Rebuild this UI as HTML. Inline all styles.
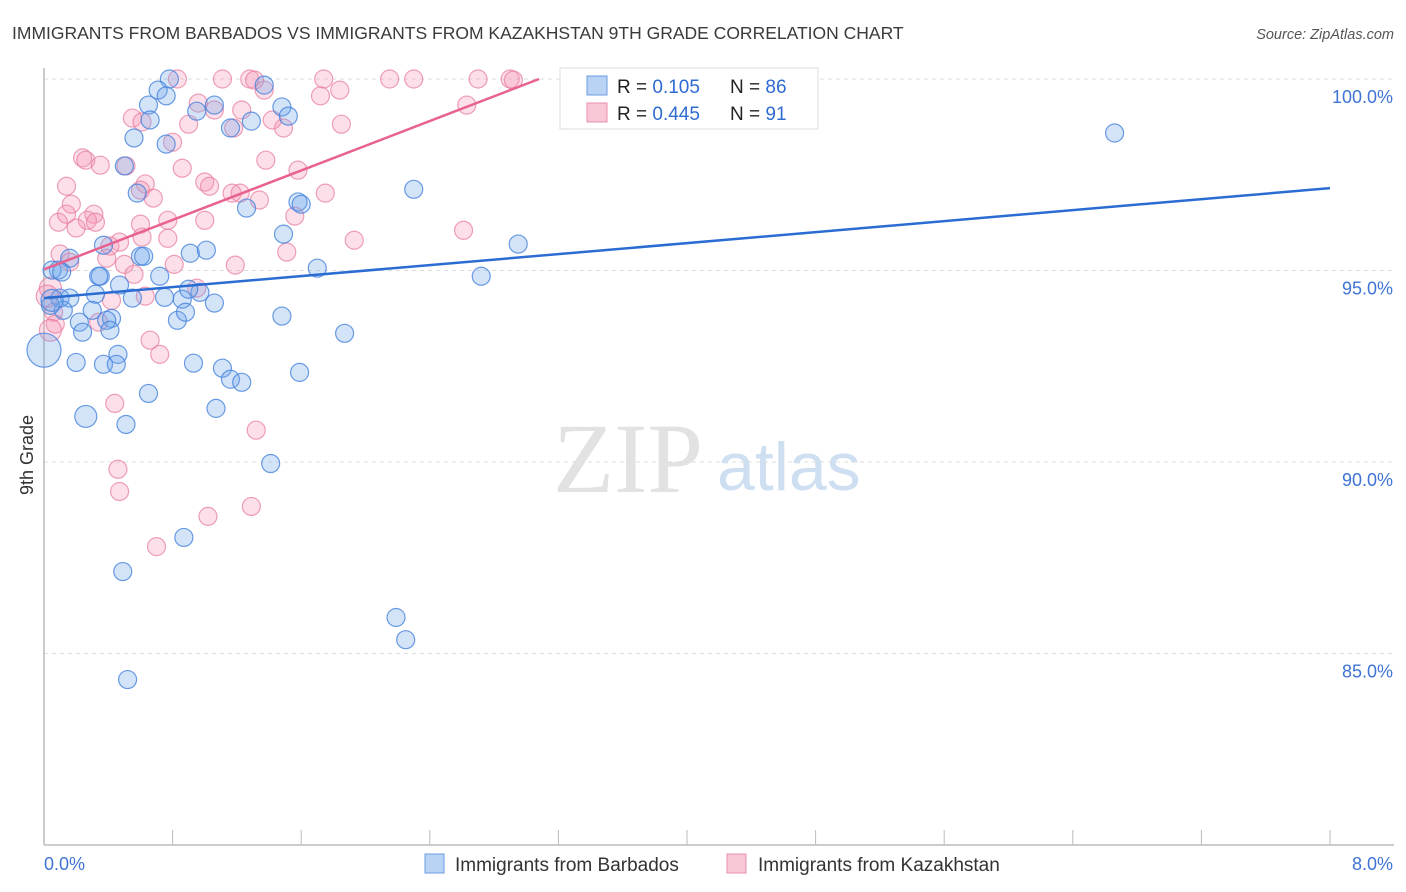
<!DOCTYPE html>
<html><head><meta charset="utf-8">
<style>
body{margin:0;background:#fff;font-family:"Liberation Sans",sans-serif;}
#wrap{position:relative;width:1406px;height:892px;overflow:hidden;}
</style></head>
<body>
<div id="wrap">
<svg id="svg" width="1406" height="892" xmlns="http://www.w3.org/2000/svg">
<text x="12" y="39" font-size="17.5" fill="#3a3a3a">IMMIGRANTS FROM BARBADOS VS IMMIGRANTS FROM KAZAKHSTAN 9TH GRADE CORRELATION CHART</text>
<text x="1394" y="39" font-size="14.5" fill="#555" font-style="italic" text-anchor="end">Source: ZipAtlas.com</text>
<text x="553" y="492" font-size="100" fill="#e2e2e2" font-family="Liberation Serif,serif">ZIP</text>
<text x="717" y="490" font-size="68" fill="#cfdff2">atlas</text>
<text transform="translate(33,455) rotate(-90)" font-size="18" fill="#333" text-anchor="middle">9th Grade</text>
<g id="grid"></g><g id="axes"></g><g id="pts"></g><g id="lines"></g>
<g>
<rect x="560" y="68" width="258" height="61" fill="#fff" stroke="#ddd"/>
<rect x="587" y="76" width="20" height="19" fill="#b9d3f4" stroke="#6a9be0"/>
<rect x="587" y="103" width="20" height="19" fill="#f9c6d5" stroke="#e890ad"/>
<text x="617" y="93" font-size="19" fill="#222">R = <tspan fill="#2f6bd0">0.105</tspan><tspan x="730">N = </tspan><tspan fill="#2f6bd0">86</tspan></text>
<text x="617" y="120" font-size="19" fill="#222">R = <tspan fill="#2f6bd0">0.445</tspan><tspan x="730">N = </tspan><tspan fill="#2f6bd0"> 91</tspan></text>
</g>
<g>
<rect x="425" y="854" width="19" height="19" fill="#b9d3f4" stroke="#6a9be0"/>
<text x="455" y="871" font-size="19" fill="#333">Immigrants from Barbados</text>
<rect x="727" y="854" width="19" height="19" fill="#f9c6d5" stroke="#e890ad"/>
<text x="758" y="871" font-size="19" fill="#333">Immigrants from Kazakhstan</text>
</g>
</svg>
</div>
<script>
const xTickLabels=["0.0%","8.0%"];
const yTicks=[100,95,90,85];
const yTickLabels=["100.0%","95.0%","90.0%","85.0%"];
const blueX=[0.78,0.71,0.76,0.65,0.66,0.56,0.76,0.50,0.58,0.95,1.06,1.16,1.29,1.37,1.48,1.52,1.26,1.58,1.60,1.49,2.30,2.95,2.72,6.66,1.70,0.91,1.01,0.60,0.62,0.37,0.16,0.09,0.05,0.11,0.35,0.34,0.72,0.47,0.55,0.75,0.86,0.97,0.90,1.06,0.83,0.88,0.10,0.16,0.32,0.12,0.30,0.42,0.39,0.22,0.24,0.41,0.04,1.48,1.87,0.46,0.20,0.37,0.45,0.93,1.11,1.16,1.23,1.59,0.65,1.07,0.26,0.51,1.41,0.87,0.49,2.19,2.25,0.52,0.00,0.05];
const blueY=[100,99.71,99.56,99.32,98.93,98.46,98.30,97.73,97.02,99.16,99.32,98.72,98.90,99.84,99.27,99.03,96.63,96.79,96.73,95.95,97.12,95.69,94.85,98.59,95.06,95.45,95.53,95.37,95.37,95.66,95.32,95.01,95.01,94.96,94.85,94.85,94.85,94.62,94.28,94.30,94.25,94.43,94.51,94.15,93.70,93.91,94.28,94.28,94.38,93.96,93.96,93.75,93.70,93.65,93.39,93.44,94.09,93.81,93.36,92.81,92.60,92.55,92.55,92.58,92.45,92.16,92.08,92.34,91.79,91.40,91.19,90.98,89.96,88.03,87.14,85.94,85.36,84.32,92.92,94.22];
const blueR=[9,9,9,9,9,9,9,9,9,9,9,9,9,9,9,9,9,9,9,9,9,9,9,9,9,9,9,9,9,9,9,9,9,9,9,9,9,9,9,9,9,9,9,9,9,9,9,9,9,9,9,9,9,9,9,9,9,9,9,9,9,9,9,9,9,9,9,9,9,9,11,9,9,9,9,9,9,9,17,11];
const pinkX=[0.83,1.11,1.28,1.31,1.74,2.15,2.30,2.70,2.90,2.92,3.28,1.84,1.72,1.37,1.23,0.96,1.06,1.18,0.90,0.55,0.61,0.80,1.49,1.42,1.85,2.63,0.24,0.26,0.35,0.51,0.14,0.86,1.00,1.03,1.17,1.22,1.34,1.58,1.75,0.63,0.60,0.68,1.38,0.17,0.09,0.14,0.31,0.27,0.20,0.32,0.47,0.41,0.60,0.77,0.77,1.00,1.56,1.93,2.61,0.10,0.16,0.39,0.50,0.56,1.19,0.81,0.95,0.63,0.42,0.04,0.02,0.06,0.07,0.04,0.34,0.66,0.72,0.44,1.32,0.46,0.47,1.02,1.29,0.70,1.51,0.61];
const pinkY=[100,100,100,99.97,100,100,100,100,100,99.97,100,99.71,99.56,99.71,99.19,99.37,99.19,98.72,98.82,98.98,98.88,98.35,98.72,98.93,98.82,99.32,97.94,97.88,97.75,97.73,97.20,97.67,97.31,97.20,97.02,97.02,96.84,97.62,97.02,97.26,97.10,96.89,97.88,96.73,96.26,96.47,96.47,96.31,96.11,96.26,95.74,95.64,96.21,96.31,95.84,96.31,96.42,95.79,96.05,95.43,95.22,95.32,95.16,94.90,95.14,95.16,94.54,94.33,94.22,94.54,94.33,93.91,93.60,93.44,93.65,93.18,92.81,91.53,90.83,89.81,89.23,88.58,88.84,87.79,95.48,95.87];
const blueTrend=[94.28,97.15];
const pinkTrend=[95.03,100];
const pinkTrendEndX=3.08;

const X0=44,X1=1330,Y100=79,Y80=845;
function xs(v){return X0+(X1-X0)*v/8;}
function ys(v){return Y100+(100-v)*(Y80-Y100)/20;}
const NS="http://www.w3.org/2000/svg";
function mk(tag,at,parent){const e=document.createElementNS(NS,tag);for(const k in at)e.setAttribute(k,at[k]);parent.appendChild(e);return e;}
const grid=document.getElementById('grid'),axes=document.getElementById('axes'),pts=document.getElementById('pts'),lines=document.getElementById('lines');
yTicks.forEach((t,i)=>{
 const l=mk('line',{x1:X0,x2:1394,y1:ys(t),y2:ys(t),stroke:'#ddd','stroke-dasharray':'4,4'},grid);
 
 
 const tx=mk('text',{x:1393,y:ys(t)+24,'font-size':18,fill:'#3f74d4','text-anchor':'end'},axes);
 tx.textContent=yTickLabels[i];
 
 
});
const ax=mk('line',{x1:X0,x2:1394,y1:Y80,y2:Y80,stroke:'#bbb','stroke-width':1.5},axes);


const ay=mk('line',{x1:X0,x2:X0,y1:68,y2:Y80,stroke:'#bbb','stroke-width':1.5},axes);


for(let i=0;i<=10;i++){
 const t=mk('line',{x1:xs(i*0.8),x2:xs(i*0.8),y1:830,y2:Y80,stroke:'#bbb'},axes);
 
 
}
[[0,'start',X0],[1,'end',1393]].forEach(([i,a,x])=>{
 const tx=mk('text',{x:x,y:870,'font-size':18,fill:'#3f74d4','text-anchor':a},axes);
 tx.textContent=xTickLabels[i];
 
 
});
pinkX.forEach((v,i)=>{
 const c=mk('circle',{cx:xs(v),cy:ys(pinkY[i]),r:(v<0.05?11:9),fill:'rgba(244,150,178,0.3)',stroke:'rgba(232,128,160,0.75)','stroke-width':1.2},pts);
 
 
});
blueX.forEach((v,i)=>{
 const c=mk('circle',{cx:xs(v),cy:ys(blueY[i]),r:blueR[i],fill:'rgba(110,165,235,0.3)',stroke:'rgba(70,130,220,0.8)','stroke-width':1.2},pts);
 
 
});
const bl=mk('line',{x1:xs(0),y1:ys(blueTrend[0]),x2:xs(8),y2:ys(blueTrend[1]),stroke:'#2b6cd3','stroke-width':2.5},lines);


const pl=mk('line',{x1:xs(0),y1:ys(pinkTrend[0]),x2:xs(pinkTrendEndX),y2:ys(pinkTrend[1]),stroke:'#e8628f','stroke-width':2.5},lines);


</script>
</body></html>
